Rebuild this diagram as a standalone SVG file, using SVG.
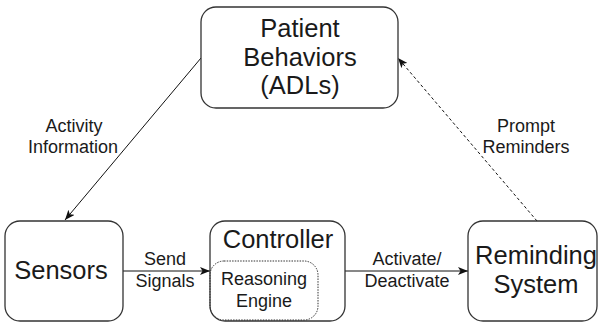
<svg xmlns="http://www.w3.org/2000/svg" width="598" height="323" viewBox="0 0 598 323">
  <style>
    .box { fill: #ffffff; stroke: #333333; stroke-width: 1.3; }
    .inner { fill: none; stroke: #333333; stroke-width: 1; stroke-dasharray: 1.5 1.2; }
    .edge { fill: none; stroke: #111111; stroke-width: 1; }
    .dash { stroke-dasharray: 3 2.5; }
    text { font-family: "Liberation Sans", Arial, sans-serif; fill: #1a1a1a; text-anchor: middle; }
    .big { font-size: 25.5px; }
    .small { font-size: 18px; }
  </style>
  <defs>
    <marker id="arrow" viewBox="0 0 10 8" refX="10" refY="4" markerWidth="10" markerHeight="8" markerUnits="userSpaceOnUse" orient="auto">
      <path d="M0,0 L10,4 L0,8 L2.5,4 Z" fill="#111111"/>
    </marker>
  </defs>

  <g id="connectors">
    <line class="edge" x1="201" y1="58" x2="65" y2="220" marker-end="url(#arrow)"/>
    <line class="edge dash" x1="537" y1="221" x2="398" y2="58" marker-end="url(#arrow)"/>
    <line class="edge" x1="123" y1="271" x2="210" y2="271" marker-end="url(#arrow)"/>
    <line class="edge" x1="345" y1="271" x2="468" y2="271" marker-end="url(#arrow)"/>
    <text class="small" x="74" y="132">Activity</text>
    <text class="small" x="73" y="153">Information</text>
    <text class="small" x="526" y="132">Prompt</text>
    <text class="small" x="526" y="153">Reminders</text>
    <text class="small" x="165" y="265">Send</text>
    <text class="small" x="165" y="287">Signals</text>
    <text class="small" x="407" y="265">Activate/</text>
    <text class="small" x="407" y="287">Deactivate</text>
  </g>

  <g id="patient">
    <rect class="box" x="201" y="7" width="197" height="101" rx="15"/>
    <text class="big" x="300" y="37">Patient</text>
    <text class="big" x="300" y="66">Behaviors</text>
    <text class="big" x="300" y="94">(ADLs)</text>
  </g>

  <g id="sensors">
    <rect class="box" x="5" y="221" width="118" height="100" rx="15"/>
    <text class="big" x="61" y="279">Sensors</text>
  </g>

  <g id="controller">
    <rect class="box" x="210" y="221" width="135" height="100" rx="15"/>
    <text class="big" x="278" y="248">Controller</text>
    <g id="reasoning-engine">
      <rect class="inner" x="210" y="261" width="108" height="59" rx="14"/>
      <text class="small" x="264" y="285">Reasoning</text>
      <text class="small" x="264" y="307">Engine</text>
    </g>
  </g>

  <g id="reminding">
    <rect class="box" x="468" y="221" width="129" height="100" rx="15"/>
    <text class="big" x="536" y="264">Reminding</text>
    <text class="big" x="536" y="293">System</text>
  </g>
</svg>
